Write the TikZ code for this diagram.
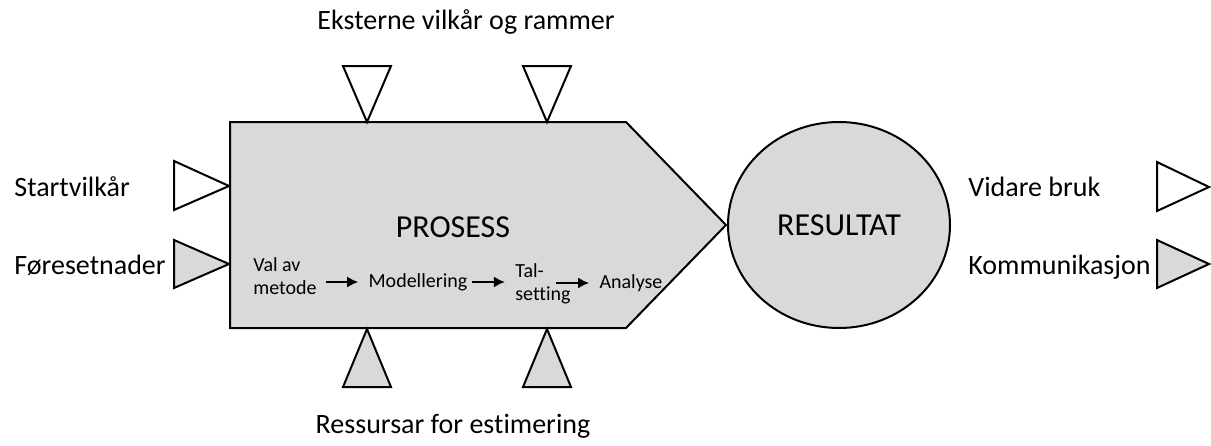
\documentclass[tikz,border=0pt]{standalone}
\usepackage{fontspec}
\setmainfont[Ligatures=NoCommon]{Carlito}
\usetikzlibrary{arrows.meta,shapes.geometric,positioning}

\begin{document}
\begin{tikzpicture}[
    x=0.5pt, y=-0.5pt,
    lbl/.style={inner sep=0pt, font=\fontsize{14}{16}\selectfont},
    title/.style={inner sep=0pt, font=\fontsize{16}{18}\selectfont},
    proc/.style={draw, line width=1pt, fill=black!15},
    tin/.style={draw, line width=1pt, fill=white},
    tres/.style={draw, line width=1pt, fill=black!15},
    flow/.style={inner sep=0pt, align=left, font=\fontsize{10}{11.5}\selectfont},
    flowarr/.style={draw, line width=1pt, -{Latex[length=5.5pt,width=5.5pt]}}]
  \useasboundingbox (0,0) rectangle (1211,445);

  % process and result
  \draw[proc] (230,122) -- (626,122) -- (726,225) -- (626,328) -- (230,328) -- cycle;
  \node[proc, ellipse, minimum width=111pt, minimum height=103pt, inner sep=0pt,
        font=\fontsize{16}{18}\selectfont] (res) at (839,225) {RESULTAT};
  \node[title] (pros) at (453,227) {PROSESS};

  % steps inside the process
  \node[flow] (valav) at (285,276) {Val av\\metode};
  \node[flow] (model) at (418,282) {Modellering};
  \node[flow] (tal) at (543,284) {Tal-\\setting};
  \node[flow] (ana) at (631,283) {Analyse};
  \draw[flowarr, shorten <=4.5pt, shorten >=5pt] (valav.east |- model.west) -- (model.west);
  \draw[flowarr, shorten <=2pt, shorten >=5pt] (model.east) -- (tal.west |- model.east);
  \draw[flowarr, shorten <=-7.5pt, shorten >=5pt] (tal.east |- ana.west) -- (ana.west);

  % triangles
  \draw[tin] (343,66) -- (391,66) -- (367,122) -- cycle;
  \draw[tin] (523,66) -- (571,66) -- (547,122) -- cycle;
  \draw[tres] (343,387) -- (391,387) -- (367,329) -- cycle;
  \draw[tres] (523,387) -- (571,387) -- (547,329) -- cycle;
  \draw[tin] (174,161) -- (229,186) -- (174,210) -- cycle;
  \draw[tres] (174,240) -- (229,264) -- (174,288) -- cycle;
  \draw[tin] (1157,162) -- (1209,187) -- (1157,211) -- cycle;
  \draw[tres] (1157,240) -- (1209,264) -- (1157,288) -- cycle;

  % labels
  \node[lbl, anchor=base] (ext) at (466,29) {Eksterne vilkår og rammer};
  \node[lbl, anchor=base] (ress) at (453,433) {Ressursar for estimering};
  \node[lbl, anchor=base west] (start) at (14,196) {Startvilkår};
  \node[lbl, anchor=base west] (fore) at (14,274) {Føresetnader};
  \node[lbl, anchor=base west] (vidare) at (968,196) {Vidare bruk};
  \node[lbl, anchor=base west] (komm) at (968,274) {Kommunikasjon};
\end{tikzpicture}
\end{document}
